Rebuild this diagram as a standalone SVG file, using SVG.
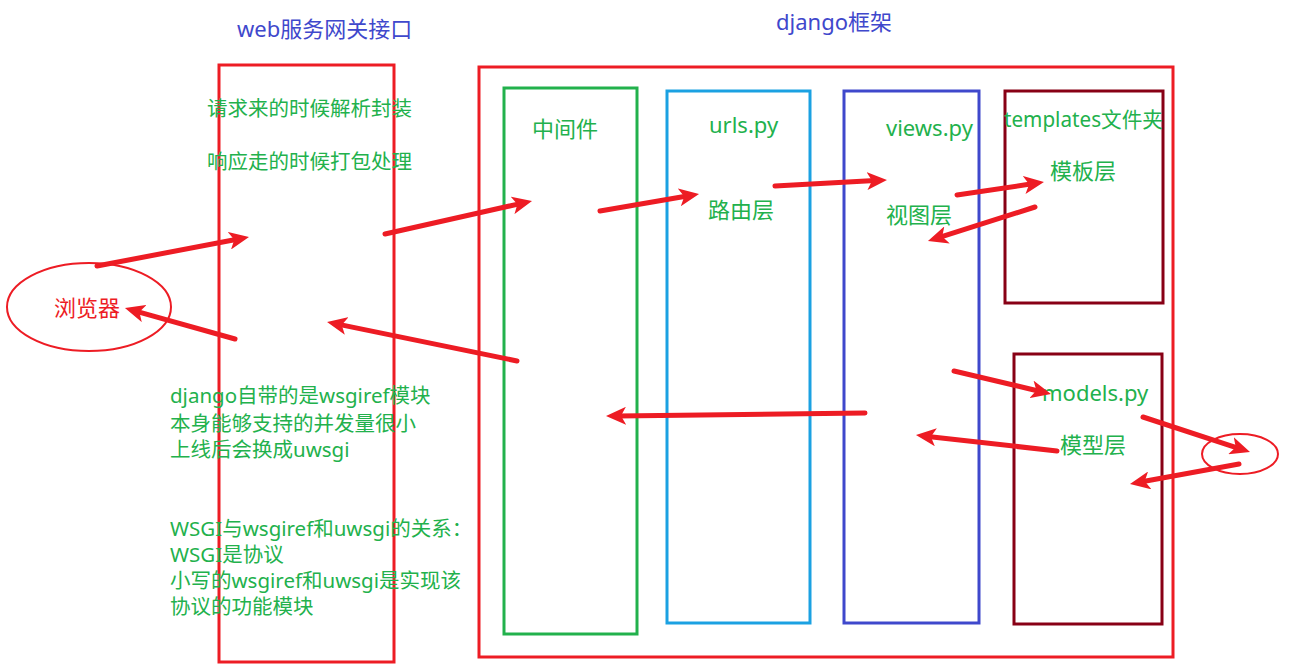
<svg xmlns="http://www.w3.org/2000/svg" width="1291" height="670" viewBox="0 0 1291 670">
<defs>
<style>
text{font-family:"Noto Sans","Noto Sans CJK SC",sans-serif;}
.g{fill:#22b14c;font-size:22px;}
.gs{fill:#22b14c;font-size:20.5px;}
.t{fill:#3f48cc;font-size:22px;}
.box{fill:none;stroke-width:3;}
.arr{fill:none;stroke:#ed1c24;stroke-width:5;stroke-linecap:round;marker-end:url(#ah);}
</style>
<marker id="ah" markerUnits="userSpaceOnUse" viewBox="0 0 20 18" markerWidth="20" markerHeight="18" refX="8" refY="9" orient="auto">
<path d="M0,0 L20,9 L0,18 L5,9 z" fill="#ed1c24"/>
</marker>
</defs>
<rect width="1291" height="670" fill="#ffffff"/>

<g id="titles">
<text class="t" x="237" y="37">web服务网关接口</text>
<text class="t" x="776" y="30">django框架</text>
</g>

<g id="gateway">
<rect class="box" x="219" y="65" width="175" height="597" stroke="#ed1c24"/>
<text class="gs" x="207" y="116">请求来的时候解析封装</text>
<text class="gs" x="207" y="169">响应走的时候打包处理</text>
</g>

<g id="django">
<rect class="box" x="479" y="67" width="694" height="590" stroke="#ed1c24"/>
</g>

<g id="middleware">
<rect class="box" x="504" y="88" width="133" height="546" stroke="#22b14c"/>
<text class="g" x="532" y="137">中间件</text>
</g>

<g id="urls">
<rect class="box" x="667" y="91" width="143" height="532" stroke="#1ba1e2"/>
<text class="g" x="709" y="133">urls.py</text>
<text class="g" x="708" y="218">路由层</text>
</g>

<g id="views">
<rect class="box" x="844" y="91" width="135" height="532" stroke="#3f48cc"/>
<text class="g" x="886" y="136">views.py</text>
<text class="g" x="886" y="223">视图层</text>
</g>

<g id="templates">
<rect class="box" x="1005" y="91" width="158" height="212" stroke="#880015"/>
<text class="g" x="1004" y="127" style="font-size:21px" textLength="159" lengthAdjust="spacingAndGlyphs">templates文件夹</text>
<text class="g" x="1050" y="179">模板层</text>
</g>

<g id="models">
<rect class="box" x="1014" y="354" width="148" height="270" stroke="#880015"/>
<text class="g" x="1042" y="401">models.py</text>
<text class="g" x="1060" y="453">模型层</text>
</g>

<g id="browser">
<ellipse cx="89" cy="307" rx="82" ry="44" fill="none" stroke="#ed1c24" stroke-width="2"/>
<text x="54" y="316" style="fill:#ed1c24;font-size:22px">浏览器</text>
</g>

<g id="database">
<ellipse cx="1240" cy="454" rx="38" ry="20" fill="none" stroke="#ed1c24" stroke-width="2"/>
</g>

<g id="notes">
<text class="gs" x="170" y="403">django自带的是wsgiref模块</text>
<text class="gs" x="170" y="431">本身能够支持的并发量很小</text>
<text class="gs" x="170" y="457">上线后会换成uwsgi</text>
<text class="gs" x="170" y="536">WSGI与wsgiref和uwsgi的关系：</text>
<text class="gs" x="170" y="562">WSGI是协议</text>
<text class="gs" x="170" y="588">小写的wsgiref和uwsgi是实现该</text>
<text class="gs" x="170" y="614">协议的功能模块</text>
</g>

<g id="connectors">
<line class="arr" x1="97" y1="266" x2="237.2" y2="239.2"/>
<line class="arr" x1="385" y1="234" x2="520.3" y2="203.6"/>
<line class="arr" x1="600" y1="211" x2="687.2" y2="196"/>
<line class="arr" x1="775" y1="186" x2="875" y2="180.6"/>
<line class="arr" x1="957" y1="195" x2="1032.1" y2="183.8"/>
<line class="arr" x1="1035" y1="207" x2="939.4" y2="237.4"/>
<line class="arr" x1="954" y1="371" x2="1039.3" y2="391.2"/>
<line class="arr" x1="1143" y1="417" x2="1238.6" y2="448.3"/>
<line class="arr" x1="1239" y1="464" x2="1141.8" y2="481.8"/>
<line class="arr" x1="1057" y1="451" x2="927.9" y2="436.4"/>
<line class="arr" x1="865" y1="413" x2="618" y2="415.9"/>
<line class="arr" x1="517" y1="361" x2="338.8" y2="324.4"/>
<line class="arr" x1="235" y1="339" x2="136.5" y2="311.3"/>
</g>
</svg>
